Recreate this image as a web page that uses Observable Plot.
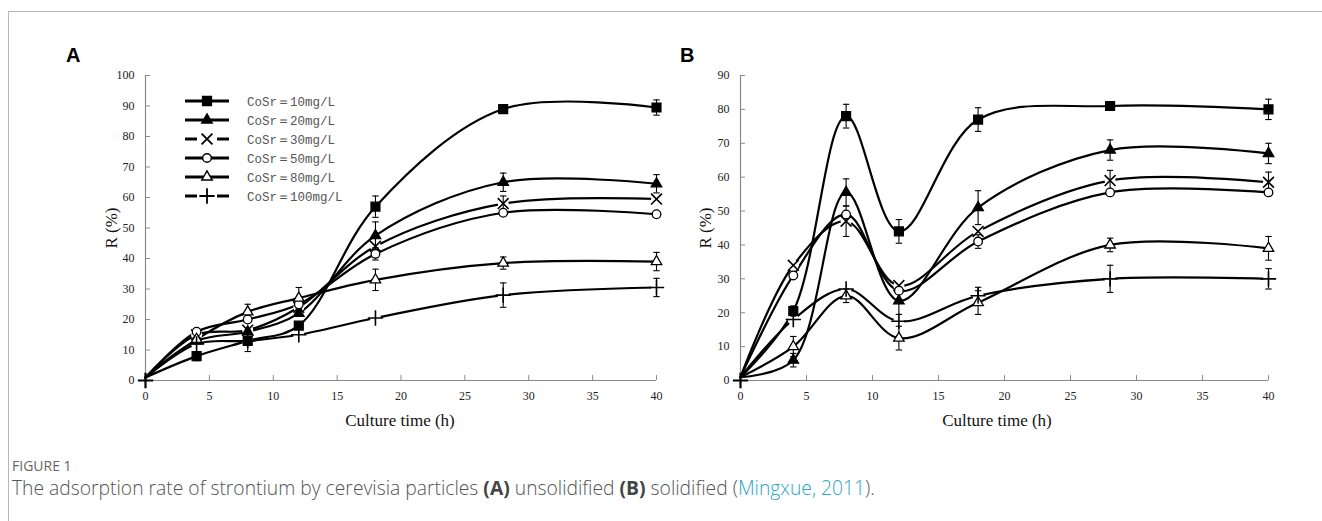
<!DOCTYPE html>
<html><head><meta charset="utf-8">
<script src="https://cdn.jsdelivr.net/npm/d3@7"></script>
<script src="https://cdn.jsdelivr.net/npm/@observablehq/plot@0.6"></script>
<style>
html,body{margin:0;padding:0;background:#fff;}
body{width:1322px;height:521px;overflow:hidden;position:relative;}
#frame{position:absolute;left:8px;top:11px;width:1314px;height:510px;border-left:1px solid #b8b8b8;border-top:1px solid #b8b8b8;}
.abs{position:absolute;}
.panel-letter{font-family:"Liberation Sans",Arial,sans-serif;font-weight:bold;font-size:20px;color:#000;}
.axt{font-family:"Liberation Serif","Times New Roman",serif;font-size:17px;color:#111;white-space:nowrap;}
.ylab{transform:translate(-50%,-50%) rotate(-90deg);}
.xlab{transform:translate(-50%,-50%);}
#figlabel{left:12px;top:456px;font-family:"Open Sans",sans-serif;font-size:14px;color:#666;}
#caption{left:12px;top:474px;font-family:"Open Sans",sans-serif;font-size:19.3px;color:#555;white-space:nowrap;font-weight:300;}
#caption b{font-weight:700;color:#444;}
#caption .ref{color:#2aa7c2;}
#legend{left:180px;top:90px;}
</style>
</head><body>
<div id="frame"></div>
<div class="abs panel-letter" style="left:66px;top:44px;">A</div>
<div class="abs panel-letter" style="left:680px;top:44px;">B</div>
<div id="plotA" class="abs" style="left:60px;top:40px;"></div>
<div id="plotB" class="abs" style="left:660px;top:40px;"></div>
<div class="abs axt ylab" style="left:112px;top:228px;">R (%)</div>
<div class="abs axt ylab" style="left:706px;top:228px;">R (%)</div>
<div class="abs axt xlab" style="left:400px;top:421px;">Culture time (h)</div>
<div class="abs axt xlab" style="left:997px;top:421px;">Culture time (h)</div>
<div id="legend" class="abs"></div>
<div id="figlabel" class="abs">FIGURE 1</div>
<div id="caption" class="abs">The adsorption rate of strontium by cerevisia particles <b>(A)</b> unsolidified <b>(B)</b> solidified (<span class="ref">Mingxue, 2011</span>).</div>
<script>
// ---------- data ----------
const times = [0, 4, 8, 12, 18, 28, 40];
const seriesLabels = ["CoSr\uFF1D10mg/L","CoSr\uFF1D20mg/L","CoSr\uFF1D30mg/L","CoSr\uFF1D50mg/L","CoSr\uFF1D80mg/L","CoSr\uFF1D100mg/L"];
const xTicks = [0,5,10,15,20,25,30,35,40];
const yTicksA = [0,10,20,30,40,50,60,70,80,90,100];
const yTicksB = [0,10,20,30,40,50,60,70,80,90];

// Panel A (unsolidified) values
const A10  = [1, 8,   13,   18, 57,   89,   89.5];
const A20  = [1, 13,  16,   22, 47.5, 65,   64.5];
const A30  = [1, 15,  16.5, 24, 44,   58,   59.5];
const A50  = [1, 16,  20,   25, 41.5, 55,   54.5];
const A80  = [1, 13.5,22.5, 27, 33,   38.5, 39];
const A100 = [1, 12,  13,   15, 20.5, 28,   30.5];
// Panel A error (half-length)
const eA10  = [0, 1.5, 0, 0,   3.5, 1,   2.5];
const eA20  = [0, 0,   0, 0,   4.5, 3,   3];
const eA30  = [0, 0,   0, 0,   0,   2.5, 0];
const eA50  = [0, 0,   0, 0,   2,   0,   0];
const eA80  = [0, 0,   2.5, 3.5, 3.5, 2, 3];
const eA100 = [0, 0,   3.5, 0, 0,   4,   3];

// Panel B (solidified) values
const B10  = [1, 20.5, 78,   44,   77, 81,   80];
const B20  = [1, 6,    55.5, 23.5, 51, 68,   67];
const B30  = [1, 34,   47,   28,   44, 59,   58.5];
const B50  = [1, 31,   49,   26.5, 41, 55.5, 55.5];
const B80  = [1, 10,   25,   12.5, 23, 40,   39];
const B100 = [1, 18,   27,   17.5, 25, 30,   30];
// Panel B error (half-length)
const eB10  = [0, 1.5, 3.5, 3.5, 3.5, 1, 3];
const eB20  = [0, 2,   4,   4,   5,   3, 3];
const eB30  = [0, 0,   4.5, 0,   0,   3, 3];
const eB50  = [0, 0,   0,   0,   2,   0, 0];
const eB80  = [0, 3,   2,   3.5, 3.5, 2, 3.5];
const eB100 = [0, 0,   0,   0,   2.5, 4, 3];

const origin = [{t: 0, v: 0}];

// ---------- styles ----------
const styles = [
  {symbol: "square",   fill: "black", r: 5,   halo: false},
  {symbol: "triangle", fill: "black", r: 3.9, halo: false},
  {symbol: "times",    fill: "none",  r: 5,   halo: true},
  {symbol: "circle",   fill: "white", r: 4.3, halo: false},
  {symbol: "triangle", fill: "white", r: 3.9, halo: false},
  {symbol: "plus",     fill: "none",  r: 5,   halo: true}
];
const cap = {draw(ctx, size){ const w = Math.sqrt(size / Math.PI); ctx.moveTo(-w, 0); ctx.lineTo(w, 0); }};

function rowsFor(vals, errs){
  return vals.map((vs, s) => vs.map((v, i) => ({s, t: times[i], v, e: errs[s][i]}))).flat();
}
const rowsA = rowsFor([A10,A20,A30,A50,A80,A100],[eA10,eA20,eA30,eA50,eA80,eA100]);
const rowsB = rowsFor([B10,B20,B30,B50,B80,B100],[eB10,eB20,eB30,eB50,eB80,eB100]);

function panel(rows, yMax, yTicks, width, marginLeft){
  const height = 400, marginTop = 35, marginBottom = 60, marginRight = 14;
  const plotW = width - marginLeft - marginRight, plotH = height - marginTop - marginBottom;
  const marks = [
    Plot.ruleX([0], {stroke: "#8a8a8a", strokeWidth: 1.2}),
    Plot.ruleY([0], {stroke: "#8a8a8a", strokeWidth: 1.2}),
    Plot.tickX(xTicks.filter(d => d > 0), {x: d => d, insetTop: plotH - 5, stroke: "#8a8a8a"}),
    Plot.tickY(yTicks.filter(d => d > 0), {y: d => d, insetRight: plotW - 5, stroke: "#8a8a8a"}),
    Plot.axisX({ticks: xTicks, tickSize: 0, tickPadding: 11, label: null, fontSize: 12}),
    Plot.axisY({ticks: yTicks, tickSize: 0, tickPadding: 11, label: null, fontSize: 12})
  ];
  for (let s = 0; s < 6; s++) {
    const d = rows.filter(r => r.s === s);
    marks.push(Plot.line(d, {x: "t", y: "v", curve: "catmull-rom", stroke: "black", strokeWidth: 2.2}));
  }
  for (let s = 0; s < 6; s++) {
    const d = rows.filter(r => r.s === s && r.t > 0);
    if (styles[s].halo) marks.push(Plot.dot(d, {x: "t", y: "v", r: 5.5, fill: "white", stroke: "none", symbol: "circle"}));
  }
  const err = rows.filter(r => r.e > 0);
  marks.push(Plot.ruleX(err, {x: "t", y1: r => r.v - r.e, y2: r => r.v + r.e, stroke: "black", strokeWidth: 1.1}));
  marks.push(Plot.dot(err, {x: "t", y: r => r.v + r.e, symbol: cap, r: 3.2, fill: "none", stroke: "black", strokeWidth: 1.1}));
  marks.push(Plot.dot(err, {x: "t", y: r => r.v - r.e, symbol: cap, r: 3.2, fill: "none", stroke: "black", strokeWidth: 1.1}));
  for (let s = 0; s < 6; s++) {
    const st = styles[s];
    const d = rows.filter(r => r.s === s && r.t > 0);
    marks.push(Plot.dot(d, {x: "t", y: "v", symbol: st.symbol, r: st.r, fill: st.fill, stroke: "black", strokeWidth: st.fill === "none" ? 1.6 : 1.3}));
  }
  marks.push(Plot.dot(origin, {x: "t", y: "v", symbol: "plus", r: 5, stroke: "black", strokeWidth: 2.2}));
  return Plot.plot({
    width, height, marginLeft, marginRight, marginTop, marginBottom,
    style: {fontFamily: "'Liberation Serif','Times New Roman',serif", fontSize: "12px", color: "#222", background: "transparent", overflow: "visible"},
    x: {domain: [0, 40]},
    y: {domain: [0, yMax]},
    marks
  });
}

document.getElementById("plotA").append(panel(rowsA, 100, yTicksA, 610, 85));
document.getElementById("plotB").append(panel(rowsB, 90, yTicksB, 622, 80));

// ---------- legend (panel A) ----------
const lg = d3.select("#legend").append("svg").attr("width", 200).attr("height", 125);
const symMap = {square: d3.symbolSquare, triangle: d3.symbolTriangle, times: d3.symbolTimes, circle: d3.symbolCircle, plus: d3.symbolPlus};
seriesLabels.forEach((lab, s) => {
  const st = styles[s];
  const y = 11 + s * 19;
  const g = lg.append("g").attr("transform", `translate(0,${y})`);
  if (st.halo) {
    g.append("line").attr("x1", 5).attr("x2", 17).attr("y1", 0).attr("y2", 0).attr("stroke", "black").attr("stroke-width", 3);
    g.append("line").attr("x1", 37).attr("x2", 49).attr("y1", 0).attr("y2", 0).attr("stroke", "black").attr("stroke-width", 3);
  } else {
    g.append("line").attr("x1", 5).attr("x2", 49).attr("y1", 0).attr("y2", 0).attr("stroke", "black").attr("stroke-width", 3);
  }
  g.append("path").attr("transform", "translate(27,0)")
    .attr("d", d3.symbol(symMap[st.symbol], st.r * st.r * Math.PI)())
    .attr("fill", st.fill).attr("stroke", "black").attr("stroke-width", st.fill === "none" ? 1.8 : 1.4);
  g.append("text").attr("x", 67).attr("y", 4.5).text(lab)
    .attr("font-family", "'Liberation Mono','DejaVu Sans Mono',monospace").attr("font-size", 12.5).attr("fill", "#555");
});
</script>
</body></html>
